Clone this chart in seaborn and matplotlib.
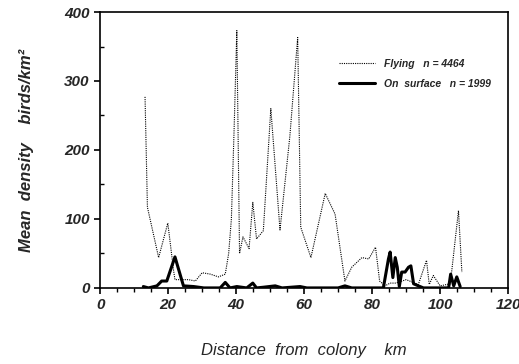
import pandas as pd
import numpy as np
import matplotlib.pyplot as plt
import seaborn as sns

# Data
flying_km = [13.2, 13.9, 17.2, 19.9, 21.6, 22.0, 26.0, 28.0, 30.0, 32.4, 34.8, 36.8, 37.8, 38.6, 39.4,
             40.2, 41.0, 42.0, 43.8, 44.9, 46.0, 48.0, 50.2, 52.9, 55.8, 58.1, 59.0, 62.0, 66.2, 69.1,
             72.0, 74.0, 77.0, 79.0, 81.0, 82.2, 83.8, 85.3, 87.0, 90.0, 93.6, 96.0, 96.8, 98.0,
             100.0, 103.0, 105.4, 106.4]
flying_density = [277, 117, 44, 94, 25, 12, 12, 10, 22, 20, 16, 20, 50, 100, 230,
                  373, 50, 74, 57, 124, 71, 83, 260, 84, 220, 363, 88, 44, 137, 107,
                  10, 30, 44, 42, 59, 10, 3, 7, 7, 12, 5, 40, 5, 18,
                  3, 6, 112, 23]

surface_km = [12.7, 14.2, 16.7, 18.1, 19.6, 22.0, 24.5, 27.5, 30.5, 35.3, 36.8, 38.2, 40.2, 43.1,
              44.9, 46.0, 48.0, 51.5, 53.5, 58.8, 60.8, 70.0, 72.0, 74.0, 83.3, 84.8, 85.3, 86.1,
              86.8, 87.4, 88.0, 88.7, 89.7, 90.7, 91.4, 92.2, 93.6, 95.1, 102.5, 103.1, 104.0,
              104.9, 105.9]
surface_density = [2, 0, 3, 10, 10, 45, 3, 2, 0, 0, 8, 0, 2, 0,
                   7, 0, 1, 3, 0, 2, 0, 0, 3, 0, 0, 42, 52, 15,
                   44, 30, 2, 23, 23, 30, 32, 6, 3, 0, 0, 20, 3,
                   16, 2]

labels = ['Flying   n = 4464', 'On  surface   n = 1999']

df = pd.concat([
    pd.DataFrame({'km': flying_km, 'density': flying_density, 'group': labels[0]}),
    pd.DataFrame({'km': surface_km, 'density': surface_density, 'group': labels[1]}),
])

sns.set_style('ticks')
plt.rcParams['font.family'] = ['Liberation Sans', 'DejaVu Sans']

fig = plt.figure(figsize=(5.19, 3.64), dpi=100)
ax = fig.add_axes([0.193, 0.209, 0.786, 0.758])

sns.lineplot(data=df, x='km', y='density', hue='group', style='group',
             palette=['black', 'black'], dashes={labels[0]: (1, 1), labels[1]: ''},
             ax=ax, sort=False, estimator=None, legend=False)
lines = ax.get_lines()
lines[0].set_linewidth(0.8)
lines[1].set_linewidth(2.2)

ax.set_xlim(0, 120)
ax.set_ylim(0, 400)
ax.set_xticks(range(0, 121, 20))
ax.set_xticks(range(0, 121, 5), minor=True)
ax.set_yticks(range(0, 401, 100))
ax.set_yticks(range(50, 400, 100), minor=True)
ax.tick_params(which='major', length=4, width=1.2, color='black')
ax.tick_params(which='minor', length=3, width=1, color='black')
ax.tick_params(axis='y', which='minor', direction='in')
for lab in ax.get_xticklabels() + ax.get_yticklabels():
    lab.set_fontstyle('italic')
    lab.set_fontweight('bold')
    lab.set_fontsize(11)
for sp in ax.spines.values():
    sp.set_visible(True)
    sp.set_color('black')
    sp.set_linewidth(1.2)

ax.legend(lines, labels, loc='upper right', bbox_to_anchor=(0.98, 0.865), frameon=False,
          prop={'style': 'italic', 'weight': 'bold', 'size': 7.5}, handlelength=3.5,
          labelspacing=1.0)

ax.set_xlabel('Distance  from  colony    km', fontsize=12, fontstyle='italic', labelpad=22)
ax.set_ylabel('Mean  density    birds/km²', fontsize=12, fontstyle='italic',
              fontweight='bold', labelpad=22)

plt.savefig('out.png', dpi=100)
